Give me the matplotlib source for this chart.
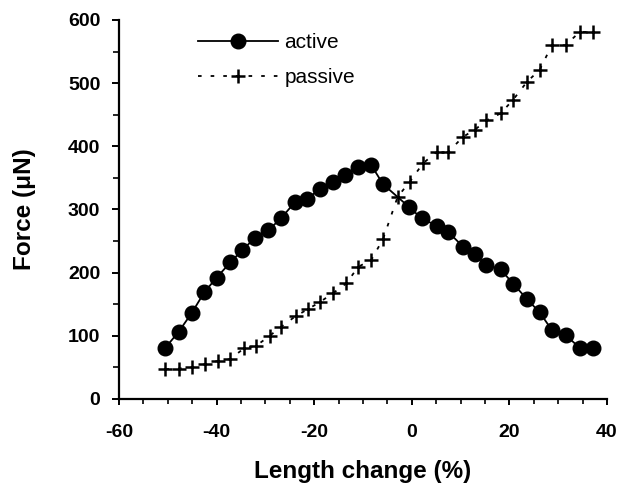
import matplotlib
matplotlib.use('Agg')
import matplotlib.pyplot as plt
from matplotlib.ticker import MultipleLocator

# Data
active_x = [-50.5, -47.8, -45.1, -42.5, -40.0, -37.2, -34.7, -32.1, -29.4, -26.8,
            -24.0, -21.4, -18.9, -16.2, -13.6, -11.0, -8.3, -5.9, -0.6, 2.0,
            5.1, 7.5, 10.5, 12.9, 15.3, 18.2, 20.8, 23.6, 26.2, 28.7,
            31.5, 34.4, 37.1]
active_y = [81, 106, 136, 169, 192, 216, 236, 255, 267, 286,
            311, 317, 332, 343, 354, 367, 370, 340, 304, 286,
            274, 264, 241, 229, 212, 205, 182, 158, 137, 109,
            101, 81, 80]

passive_x = [-50.5, -47.8, -45.1, -42.4, -39.8, -37.2, -34.4, -31.9, -29.1, -26.8,
             -23.8, -21.3, -18.9, -16.2, -13.4, -11.0, -8.3, -5.9, -2.9, -0.4,
             2.3, 5.1, 7.5, 10.5, 12.9, 15.3, 18.2, 20.8, 23.6, 26.2,
             28.7, 31.5, 34.4, 37.1]
passive_y = [47, 48, 50, 55, 60, 63, 80, 84, 100, 114,
             131, 142, 153, 167, 183, 209, 220, 253, 320, 344,
             373, 391, 391, 415, 426, 441, 452, 474, 502, 521,
             560, 560, 581, 581]

plt.rcParams['font.family'] = ['Liberation Sans', 'DejaVu Sans']
plt.rcParams['axes.unicode_minus'] = False

fig = plt.figure(figsize=(6.2, 4.87), dpi=100)
ax = fig.add_axes([0.192, 0.181, 0.787, 0.778])

ax.plot(active_x, active_y, color='black', lw=1.3, marker='o', ms=10.5,
        label='active')
ax.plot(passive_x, passive_y, color='black', lw=1.3, ls=(0, (2, 5)), marker='+',
        ms=10, mew=1.8, label='passive')

ax.set_xlim(-60, 40)
ax.set_ylim(0, 600)
ax.xaxis.set_major_locator(MultipleLocator(20))
ax.xaxis.set_minor_locator(MultipleLocator(5))
ax.yaxis.set_major_locator(MultipleLocator(100))
ax.yaxis.set_minor_locator(MultipleLocator(50))

for side in ['top', 'right']:
    ax.spines[side].set_visible(False)
for side in ['left', 'bottom']:
    ax.spines[side].set_linewidth(1.6)

ax.tick_params(which='major', width=1.4, labelsize=14)
ax.tick_params(axis='y', which='major', length=5, pad=8.5)
ax.tick_params(axis='y', which='minor', length=4, width=1.2)
ax.tick_params(axis='x', which='major', length=4, pad=14)
ax.tick_params(axis='x', which='minor', length=3.5, width=1.2)
for lab in ax.get_xticklabels() + ax.get_yticklabels():
    lab.set_fontweight('bold')

ax.set_xlabel('Length change (%)', fontsize=17.5, fontweight='bold', labelpad=14)
ax.set_ylabel('Force (\u03bcN)', fontsize=17.5, fontweight='bold', labelpad=23)

ax.legend(loc='upper left', bbox_to_anchor=(0.319, 0.932),
          bbox_transform=fig.transFigure, frameon=False, borderpad=0,
          borderaxespad=0, fontsize=15, handlelength=3.85, handletextpad=0.3,
          labelspacing=0.78)

fig.savefig('out.png', dpi=100)
